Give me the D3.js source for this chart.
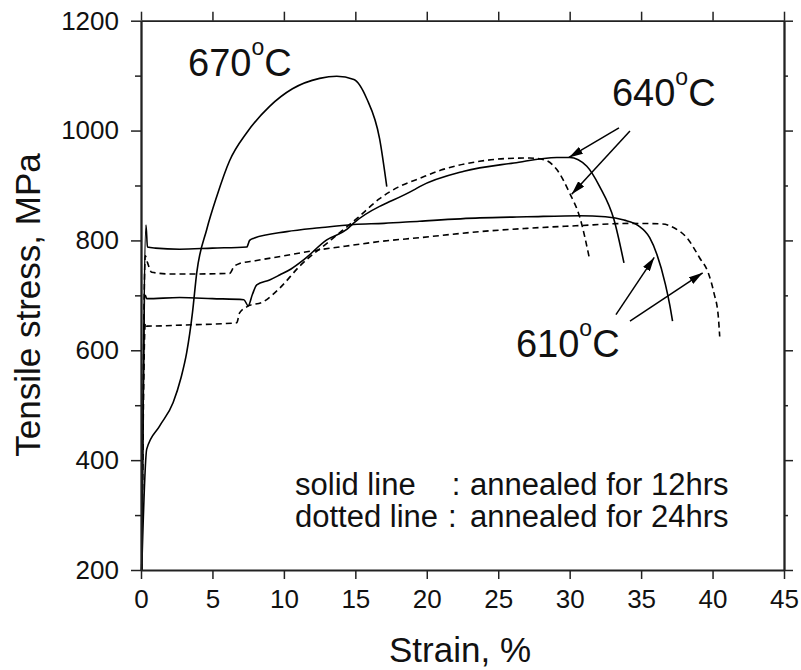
<!DOCTYPE html>
<html>
<head>
<meta charset="utf-8">
<script src="https://cdn.jsdelivr.net/npm/d3@7"></script>
<style>
  html, body { margin: 0; padding: 0; background: #fff; }
  svg { display: block; font-family: "Liberation Sans", Arial, sans-serif; }
</style>
</head>
<body>
<svg id="chart" width="801" height="670"></svg>
<script>
// ---------- data ----------
const strainTicks = [0, 5, 10, 15, 20, 25, 30, 35, 40, 45];
const stressTicks = [200, 400, 600, 800, 1000, 1200];
const stressMinorTicks = [300, 500, 700, 900, 1100];

// [strain %, stress MPa]
const curve670_12h = [[0.05,200],[0.4,420],[1.3,462],[2.25,505],[2.8,550],[3.2,596],[3.6,668],[3.9,741],[4.6,820],[5.3,880],[6.2,945],[7.4,996],[9.0,1044],[10.6,1076],[12.5,1095],[13.7,1099],[14.9,1093],[15.8,1058],[16.7,985],[17.2,898]];
const curve640_12h = [[0.05,200],[0.3,700],[0.4,694],[2.7,696],[5.0,694],[7.2,692],[7.5,681],[7.8,702],[8.1,719],[9.0,728],[9.7,737],[10.5,748],[11.4,765],[13.0,801],[14.4,820],[14.9,832],[16.7,862],[17.2,868],[19.1,892],[19.5,898],[22.6,926],[26.1,941],[29.1,951],[30.0,951],[31.2,935],[32.1,898],[33.1,838],[33.8,759]];
const curve640_24h = [[0.05,200],[0.3,650],[0.4,644],[3.0,646],[6.7,650],[6.9,668],[7.4,679],[8.6,689],[9.7,713],[11.1,753],[13.3,801],[15.2,842],[16.7,876],[18.0,897],[19.5,913],[21.0,928],[23.7,944],[25.5,949],[27.2,950],[28.2,947],[29.1,929],[30.0,886],[30.7,843],[31.4,765]];
const curve610_12h = [[0.05,200],[0.35,828],[0.45,788],[1.0,786],[2.7,784],[5.0,786],[7.4,788],[7.6,800],[7.9,804],[10.2,816],[12.5,823],[14.9,829],[17.0,831],[19.5,835],[23.7,841],[27.0,843],[30.7,845],[32.5,843],[33.8,837],[34.8,827],[35.6,805],[36.1,775],[36.7,720],[37.0,683],[37.2,653]];
const curve610_24h = [[0.05,200],[0.3,772],[0.45,760],[0.75,742],[2.0,739],[4.0,739],[6.2,740],[6.5,752],[6.9,758],[8.0,763],[10.0,772],[12.5,783],[15.0,792],[16.7,798],[19.5,805],[23.7,816],[27.0,822],[30.7,827],[34.2,831],[36.5,830],[37.3,823],[38.2,805],[39.1,768],[39.7,741],[40.1,704],[40.4,662],[40.5,625]];

const seriesNames = ["670°C 12h", "640°C 12h", "640°C 24h", "610°C 12h", "610°C 24h"];
const seriesData = [curve670_12h, curve640_12h, curve640_24h, curve610_12h, curve610_24h];
const seriesDashed = [false, false, true, false, true];

// arrows: [fromStrain, fromStress, toStrain, toStress]
const arrows640 = [[33.45,1005,29.95,951],[34.22,999,30.14,884]];
const arrows610 = [[33.24,665,35.92,769],[34.22,653,39.31,741]];

const tempLabels = ["670", "640", "610"];
const legendKeys = ["solid line", "dotted line"];
const legendValues = ["annealed for 12hrs", "annealed for 24hrs"];
const xTitle = "Strain, %";
const yTitle = "Tensile stress, MPa";

// ---------- drawing ----------
const svg = d3.select("#chart");
const x = d3.scaleLinear().domain([0, 45]).range([141, 784]);
const y = d3.scaleLinear().domain([200, 1200]).range([570, 20.7]);
const axisColor = "#222";

const defs = svg.append("defs");
defs.append("marker")
  .attr("id", "arrowhead")
  .attr("markerUnits", "userSpaceOnUse")
  .attr("viewBox", "0 0 14 8")
  .attr("markerWidth", 14).attr("markerHeight", 8)
  .attr("refX", 14).attr("refY", 4)
  .attr("orient", "auto")
  .append("path").attr("d", "M0,0 L14,4 L0,8 Z").attr("fill", "#000");

// curves
const line = d3.line()
  .x(d => x(d[0])).y(d => y(d[1]))
  .curve(d3.curveMonotoneX);

svg.append("g").selectAll("path")
  .data(seriesData)
  .join("path")
  .attr("d", line)
  .attr("fill", "none")
  .attr("stroke", "#000")
  .attr("stroke-width", 1.6)
  .attr("stroke-dasharray", (d, i) => seriesDashed[i] ? "6,4" : null);

// arrows
svg.append("g").selectAll("line")
  .data(arrows640.concat(arrows610))
  .join("line")
  .attr("x1", d => x(d[0])).attr("y1", d => y(d[1]))
  .attr("x2", d => x(d[2])).attr("y2", d => y(d[3]))
  .attr("stroke", "#000").attr("stroke-width", 1.5)
  .attr("marker-end", "url(#arrowhead)");

// axes
function styleAxis(g) {
  g.selectAll(".domain").attr("stroke", axisColor).attr("stroke-width", 1.8);
  g.selectAll(".tick line").attr("stroke", axisColor).attr("stroke-width", 1.5);
  g.selectAll("text").attr("fill", "#111").style("font-size", "26px")
    .style("font-family", '"Liberation Sans", Arial, sans-serif');
}

svg.append("g").attr("transform", `translate(0,${y(200)})`)
  .call(d3.axisBottom(x).tickValues(strainTicks).tickFormat(d3.format("d"))
    .tickSize(9).tickSizeOuter(0).tickPadding(11))
  .call(styleAxis);

svg.append("g").attr("transform", `translate(0,${y(1200)})`)
  .call(d3.axisTop(x).tickValues(strainTicks).tickFormat("")
    .tickSize(9).tickSizeOuter(0))
  .call(styleAxis);

svg.append("g").attr("transform", `translate(${x(0)},0)`)
  .call(d3.axisLeft(y).tickValues(stressTicks).tickFormat(d3.format("d"))
    .tickSize(10).tickSizeOuter(0).tickPadding(12))
  .call(styleAxis);
svg.append("g").attr("transform", `translate(${x(0)},0)`)
  .call(d3.axisLeft(y).tickValues(stressMinorTicks).tickFormat("")
    .tickSize(6).tickSizeOuter(0))
  .call(styleAxis);

svg.append("g").attr("transform", `translate(${x(45)},0)`)
  .call(d3.axisRight(y).tickValues(stressTicks).tickFormat("")
    .tickSize(9).tickSizeOuter(0))
  .call(styleAxis);
svg.append("g").attr("transform", `translate(${x(45)},0)`)
  .call(d3.axisRight(y).tickValues(stressMinorTicks).tickFormat("")
    .tickSize(4).tickSizeOuter(0))
  .call(styleAxis);

// axis titles
svg.append("text")
  .attr("x", 460).attr("y", 662)
  .attr("text-anchor", "middle")
  .style("font-size", "35px").attr("fill", "#111")
  .text(xTitle);

svg.append("text")
  .attr("transform", "translate(40,305) rotate(-90)")
  .attr("text-anchor", "middle")
  .style("font-size", "35px").attr("fill", "#111")
  .text(yTitle);

// temperature labels
const labelPos = [[3.29, 1099.6], [32.96, 1045], [26.24, 588.6]];
tempLabels.forEach((t, i) => {
  const tx = svg.append("text")
    .attr("x", x(labelPos[i][0])).attr("y", y(labelPos[i][1]))
    .style("font-size", "38px").attr("fill", "#111");
  tx.append("tspan").text(t);
  tx.append("tspan").attr("dy", -21).style("font-size", "23px").text("o");
  tx.append("tspan").attr("dy", 21).text("C");
});

// legend text
const legendBaselines = [495, 527];
const colonX = [451.7, 448];
legendKeys.forEach((k, i) => {
  svg.append("text").attr("x", 295).attr("y", legendBaselines[i])
    .style("font-size", "31px").attr("fill", "#111").text(k);
  svg.append("text").attr("x", colonX[i]).attr("y", legendBaselines[i])
    .style("font-size", "31px").attr("fill", "#111").text(":");
  svg.append("text").attr("x", 470).attr("y", legendBaselines[i])
    .style("font-size", "31px").attr("fill", "#111").text(legendValues[i]);
});
</script>
</body>
</html>
